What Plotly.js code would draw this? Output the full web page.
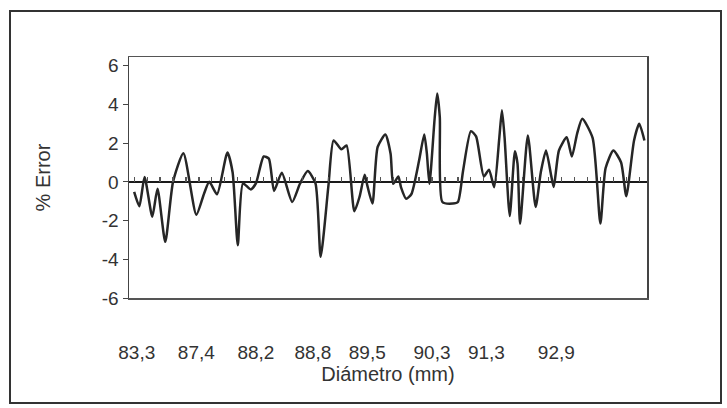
<!DOCTYPE html>
<html>
<head>
<meta charset="utf-8">
<script src="https://cdn.plot.ly/plotly-3.0.1.min.js"></script>
<style>
html,body{margin:0;padding:0;background:#fff;}
#chart{width:727px;height:408px;}
</style>
</head>
<body>
<div id="chart"></div>
<script>
// sample index along the measured sequence (category positions)
var sampleIndex = [2,4,6,9,11,14,17,21,26,29,31,34,38,40,42,44,47,49,52,54,56,59,63,66,69,72,74,77,79,82,84,87,89,91,92,94,96,99,101,102,104,105,107,109,112,114,115,116,118,119,120,121,125,127,129,132,134,137,139,141,143,144,145,147,149,150,151,154,157,159,161,163,164,166,169,171,173,175,179,182,184,187,190,192,195,197,199];
// % error values
var errorPct = [-0.52,-1.26,0.25,-1.8,-0.35,-3.1,0.0,1.48,-1.7,-0.6,0.0,-0.64,1.52,0.5,-3.27,-0.08,-0.39,-0.08,1.31,1.2,-0.47,0.47,-1.04,-0.1,0.56,-0.08,-3.87,-0.2,2.14,1.68,1.88,-1.52,-0.78,0.37,-0.18,-1.12,1.8,2.45,1.45,-0.1,0.28,-0.27,-0.87,-0.64,1.1,2.45,1.47,-0.1,3.26,4.57,3.34,-1.04,-1.12,-1.04,0.59,2.62,2.35,0.28,0.63,-0.28,2.31,3.7,2.31,-1.76,1.58,0.94,-2.17,2.4,-1.3,0.5,1.62,0.33,-0.27,1.62,2.3,1.31,2.48,3.26,2.27,-2.15,0.7,1.62,1.0,-0.74,2.14,3.0,2.14];
// category tick labels (diameter, mm) and the sample index where each is shown
var tickLabels = ["83,3","87,4","88,2","88,8","89,5","90,3","91,3","92,9"];
var tickIndex = [3,26,49,71,92,117,138,165];
var yTicks = [-6,-4,-2,0,2,4,6];
var yTickText = ["-6","-4","-2","0","2","4","6"];

var font = "Liberation Sans, Arial, sans-serif";
var yMin = -6, yMax = 6.45;

var data = [
  {
    x: sampleIndex, y: errorPct, type: "scatter", mode: "lines",
    line: {color: "#262626", width: 2.5, shape: "spline", smoothing: 0.6},
    hoverinfo: "skip", showlegend: false
  },
  { x: [0, 200], y: [0, 0], xaxis: "x2", yaxis: "y", type: "scatter", mode: "lines",
    line: {color: "rgba(0,0,0,0)", width: 0}, showlegend: false, hoverinfo: "skip" }
];

var layout = {
  width: 727, height: 408,
  margin: {l: 129, r: 80, t: 57, b: 110},
  paper_bgcolor: "#ffffff", plot_bgcolor: "#ffffff",
  showlegend: false,
  font: {family: font, color: "#333333", size: 19},
  xaxis: {
    range: [0, 200],
    tickmode: "array", tickvals: tickIndex, ticktext: tickLabels,
    ticks: "", showgrid: false, zeroline: false,
    showline: true, mirror: true, linecolor: "#555555", linewidth: 1.5,
    tickfont: {family: font, size: 19, color: "#333333"},
    ticklabelstandoff: 37,
    title: {text: "Diámetro (mm)", font: {family: font, size: 20, color: "#333333"}, standoff: 4}
  },
  xaxis2: {
    overlaying: "x", anchor: "free", position: (0 - yMin) / (yMax - yMin), side: "top",
    range: [0, 200], tickmode: "linear", tick0: 2, dtick: 5,
    ticks: "outside", ticklen: 5, tickwidth: 1.2, tickcolor: "#555555",
    showticklabels: false, showgrid: false, zeroline: false, showline: false, layer: "above traces"
  },
  yaxis: {
    range: [yMin, yMax],
    tickmode: "array", tickvals: yTicks, ticktext: yTickText,
    ticks: "outside", ticklen: 5, tickcolor: "#444444", tickwidth: 1,
    showgrid: false, zeroline: true, zerolinecolor: "#1a1a1a", zerolinewidth: 2,
    showline: true, mirror: true, linecolor: "#444444", linewidth: 1.5,
    tickfont: {family: font, size: 19, color: "#333333"},
    title: {text: "% Error", font: {family: font, size: 20, color: "#333333"}, standoff: 46}
  },
  shapes: [
    {type: "rect", xref: "paper", yref: "paper",
     x0: (10 - 129) / 518, x1: (721 - 129) / 518,
     y0: (298 - 403) / 241, y1: (298 - 11) / 241,
     line: {color: "#333333", width: 2}, fillcolor: "rgba(0,0,0,0)", layer: "below"}
  ]
};

Plotly.newPlot("chart", data, layout, {displayModeBar: false, staticPlot: true});
</script>
</body>
</html>
